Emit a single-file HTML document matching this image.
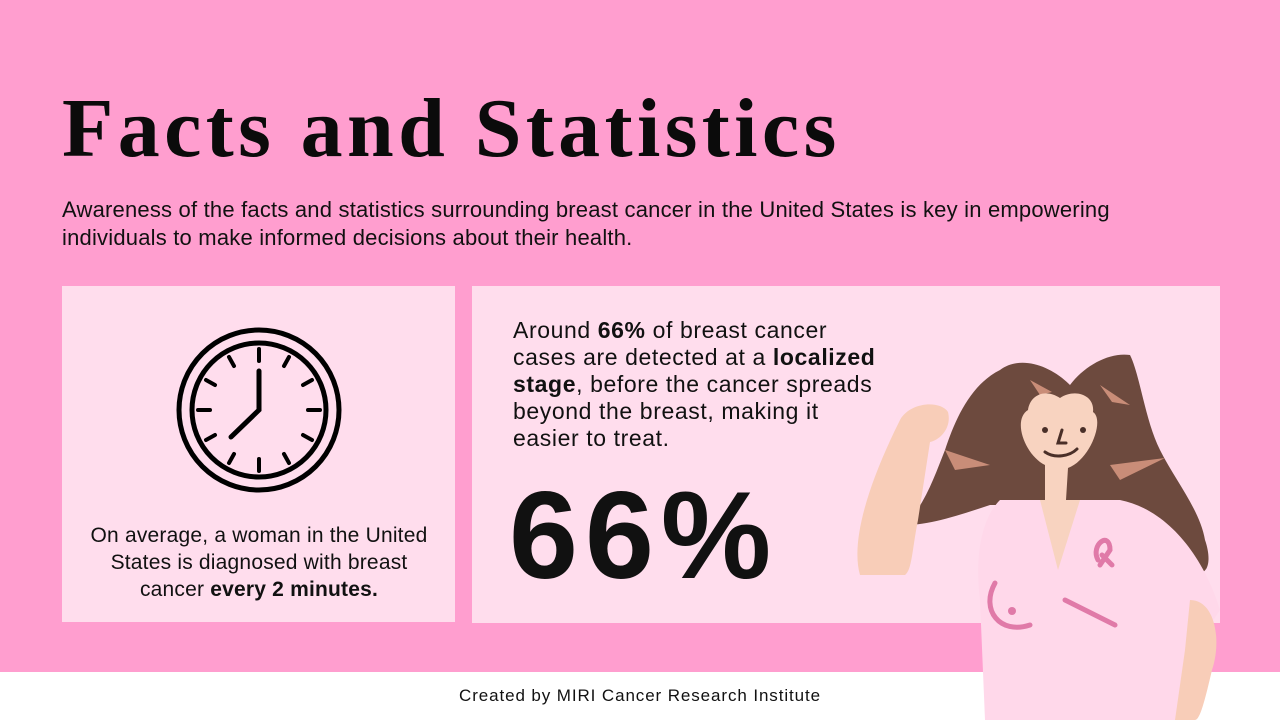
<!DOCTYPE html>
<html><head><style>
body{margin:0;width:1280px;height:720px;background:#ff9ecf;position:relative;overflow:hidden;font-family:"Liberation Sans",sans-serif;color:#111}
.t{position:absolute;left:62px;top:80px;font-family:"Liberation Serif",serif;font-weight:bold;font-size:84px;letter-spacing:4.4px;white-space:nowrap;color:#0b0b0b}
.sub{position:absolute;left:62px;top:196px;font-size:22px;line-height:28px;width:1130px;letter-spacing:0.2px}
.p{position:absolute;background:#ffdded}
.c1{left:62px;top:286px;width:393px;height:336px}
.c2{left:472px;top:286px;width:748px;height:337px}
.foot{position:absolute;left:0;top:672px;width:1280px;height:48px;background:#fff;text-align:center;font-size:17px;line-height:48px;letter-spacing:0.9px}
.cap{position:absolute;left:79px;top:522px;width:360px;text-align:center;font-size:21px;line-height:27px;letter-spacing:0.2px}
.txt{position:absolute;left:513px;top:317px;font-size:23px;line-height:27px;width:420px;letter-spacing:0.6px;white-space:nowrap}
.big{position:absolute;left:509px;top:474px;font-size:124px;line-height:124px;font-weight:bold;letter-spacing:7px}
</style></head><body>
<div class="t">Facts and Statistics</div>
<div class="sub">Awareness of the facts and statistics surrounding breast cancer in the United States is key in empowering individuals to make informed decisions about their health.</div>
<div class="p c1"></div>
<div class="p c2"></div>
<div class="foot">Created by MIRI Cancer Research Institute</div>
<svg style="position:absolute;left:0;top:0" width="1280" height="720">
<g stroke="#000" fill="none" stroke-linecap="round">
<circle cx="259" cy="410" r="80" stroke-width="5"/>
<circle cx="259" cy="410" r="67" stroke-width="5"/>
<g stroke-width="4">
<line x1="259" y1="349" x2="259" y2="361"/><line x1="259" y1="459" x2="259" y2="471"/>
<line x1="198" y1="410" x2="210" y2="410"/><line x1="308" y1="410" x2="320" y2="410"/>
<line x1="289" y1="357" x2="284" y2="366"/><line x1="312" y1="380" x2="303" y2="385"/>
<line x1="312" y1="440" x2="303" y2="435"/><line x1="289" y1="463" x2="284" y2="454"/>
<line x1="229" y1="463" x2="234" y2="454"/><line x1="206" y1="440" x2="215" y2="435"/>
<line x1="206" y1="380" x2="215" y2="385"/><line x1="229" y1="357" x2="234" y2="366"/>
</g>
<polyline points="259,371 259,410 231,437" stroke-width="5"/>
</g>
<path d="M1000,370 C1020,355 1050,365 1070,385 C1085,365 1110,352 1130,355 C1140,375 1145,420 1160,450 C1175,480 1200,510 1205,540 C1212,560 1208,575 1198,572 C1175,545 1150,520 1120,505 L990,505 C960,515 930,525 905,525 C925,505 935,475 945,450 C955,420 970,385 1000,370Z" fill="#6d4a3e"/>
<g fill="#c98d78"><path d="M1030,380 L1052,392 L1040,395Z"/><path d="M1100,385 L1130,405 L1112,402Z"/><path d="M945,450 L990,465 L955,470Z"/><path d="M1110,465 L1165,458 L1120,480Z"/></g>
<path d="M1000,500 L1120,500 C1170,510 1205,560 1220,610 L1200,640 L1195,720 L985,720 L980,600 C975,560 980,520 1000,500Z" fill="#ffd8ea"/>
<path d="M1190,600 C1215,600 1222,640 1212,670 C1205,700 1200,720 1195,720 L1175,720 L1185,650Z" fill="#f8cdb8"/>
<path d="M1028,410 C1030,395 1045,388 1060,398 C1075,388 1095,395 1093,412 C1105,420 1090,460 1068,468 L1066,500 L1045,500 L1045,465 C1025,455 1012,420 1028,410Z" fill="#f8d3c0"/>
<path d="M1040,500 L1058,570 L1080,500Z" fill="#f8d3c0"/>
<path d="M900,420 C910,402 940,400 948,412 C952,428 940,440 930,442 L918,520 C912,550 912,570 905,575 L860,575 C850,540 870,480 900,420Z" fill="#f8cdb8"/>
<g stroke="#e07aa8" fill="none" stroke-width="5" stroke-linecap="round">
<path d="M995,583 C980,610 1000,635 1030,625"/>
<path d="M1065,600 L1115,625"/>
<path d="M1098,560 C1090,545 1110,530 1110,550 L1100,565 M1102,555 L1112,565"/>
</g>
<circle cx="1012" cy="611" r="4" fill="#e07aa8"/>
<g stroke="#4a2f28" stroke-width="3" fill="none" stroke-linecap="round">
<path d="M1045,452 C1055,459 1070,456 1077,449"/><path d="M1062,430 L1058,443 L1066,443"/>
</g>
<circle cx="1045" cy="430" r="3" fill="#4a2f28"/><circle cx="1083" cy="430" r="3" fill="#4a2f28"/>
</svg>
<div class="cap">On average, a woman in the United States is diagnosed with breast cancer <b>every 2 minutes.</b></div>
<div class="txt">Around <b>66%</b> of breast cancer<br>cases are detected at a <b>localized</b><br><b>stage</b>, before the cancer spreads<br>beyond the breast, making it<br>easier to treat.</div>
<div class="big">66%</div>
</body></html>
